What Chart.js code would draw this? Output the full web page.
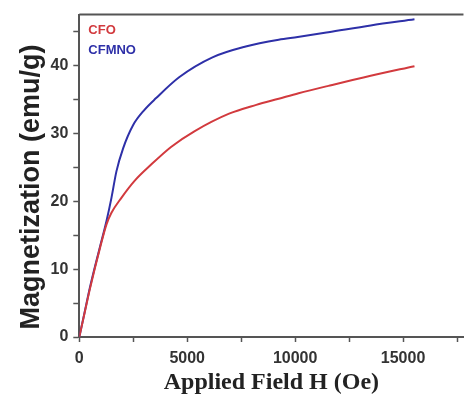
<!DOCTYPE html>
<html>
<head>
<meta charset="utf-8">
<script src="https://cdn.jsdelivr.net/npm/chart.js@4"></script>
<style>
  html, body { margin: 0; padding: 0; background: #fff; overflow: hidden; }
  #wrap { width: 464px; height: 410px; position: relative; }
</style>
</head>
<body>
<div id="wrap"><canvas id="chartCanvas" width="464" height="410"></canvas></div>
<script>
// CFO (red)
const cfoH = [0, 250, 500, 950, 1260, 1490, 1950, 2560, 3330, 4250, 5330, 6940, 8200, 9240, 10160, 11540, 13500, 15530];
const cfoM = [0, 3.6, 7.2, 13.0, 16.6, 18.3, 20.5, 23.0, 25.4, 28.0, 30.3, 32.9, 34.2, 35.1, 35.9, 37.0, 38.5, 39.9];
// CFMNO (blue)
const cfmnoH = [0, 250, 500, 950, 1260, 1490, 1720, 2030, 2490, 3000, 3560, 4640, 6170, 7710, 9240, 10120, 11540, 13500, 15530];
const cfmnoM = [0, 3.7, 7.4, 13.2, 17.1, 20.5, 24.4, 27.8, 31.2, 33.4, 35.2, 38.3, 41.2, 42.8, 43.8, 44.2, 44.9, 45.9, 46.8];

// tick positions (minor + major) and the labelled ones
const xTicks = [0, 2500, 5000, 7500, 10000, 12500, 15000, 17500];
const xMajor = [0, 5000, 10000, 15000];
const yTicks = [0, 5, 10, 15, 20, 25, 30, 35, 40, 45];
const yMajor = [0, 10, 20, 30, 40];

function toPoints(xs, ys) {
  return xs.map((x, i) => ({ x: x, y: ys[i] }));
}

const axisColor = "#555";
const tickFont = { family: "Liberation Sans", size: 16, weight: "bold" };

const legendText = {
  id: "legendText",
  afterDatasetsDraw(chart) {
    const ctx = chart.ctx;
    const a = chart.chartArea;
    ctx.save();
    ctx.font = "bold 13px 'Liberation Sans'";
    ctx.textBaseline = "middle";
    chart.data.datasets.forEach((ds, i) => {
      ctx.fillStyle = ds.borderColor;
      ctx.fillText(ds.label, a.left + 9, a.top + 16 + i * 20);
    });
    // top frame line
    ctx.strokeStyle = axisColor;
    ctx.lineWidth = 2;
    ctx.beginPath();
    ctx.moveTo(a.left, a.top);
    ctx.lineTo(a.right, a.top);
    ctx.stroke();
    ctx.restore();
  },
};

const ctxChart = document.getElementById("chartCanvas").getContext("2d");
const chart = new Chart(ctxChart, {
  type: "line",
  data: {
    datasets: [
      {
        label: "CFO",
        data: toPoints(cfoH, cfoM),
        borderColor: "#d23a3e",
        borderWidth: 2,
        pointRadius: 0,
        cubicInterpolationMode: "monotone",
        fill: false,
      },
      {
        label: "CFMNO",
        data: toPoints(cfmnoH, cfmnoM),
        borderColor: "#2e30a8",
        borderWidth: 2,
        pointRadius: 0,
        cubicInterpolationMode: "monotone",
        fill: false,
      },
    ],
  },
  options: {
    responsive: false,
    animation: false,
    layout: { padding: { top: 11, right: 0, left: 0, bottom: 0 } },
    plugins: { legend: { display: false }, tooltip: { enabled: false } },
    scales: {
      x: {
        type: "linear",
        min: 0,
        max: 17800,
        afterBuildTicks: (s) => { s.ticks = xTicks.map((v) => ({ value: v })); },
        afterFit: (s) => { s.height = 73; },
        grid: { drawOnChartArea: false, drawTicks: true, tickLength: 5, tickColor: axisColor, tickWidth: 1.5 },
        border: { color: axisColor, width: 2 },
        ticks: {
          maxRotation: 0,
          autoSkip: false,
          padding: 7,
          color: "#333",
          font: tickFont,
          callback: (v) => (xMajor.includes(v) ? String(v) : ""),
        },
        title: {
          display: true,
          text: "Applied Field H (Oe)",
          color: "#222",
          font: { family: "Liberation Serif", size: 24, weight: "bold" },
          padding: { top: 0, bottom: 13 },
        },
      },
      y: {
        min: 0,
        max: 47.5,
        afterBuildTicks: (s) => { s.ticks = yTicks.map((v) => ({ value: v })); },
        afterFit: (s) => { s.width = 79.3; },
        grid: { drawOnChartArea: false, drawTicks: true, tickLength: 6, tickColor: axisColor, tickWidth: 1.5 },
        border: { color: axisColor, width: 2 },
        ticks: {
          autoSkip: false,
          padding: 5,
          color: "#333",
          font: tickFont,
          callback: (v) => (yMajor.includes(v) ? String(v) : ""),
        },
        title: {
          display: true,
          text: "Magnetization (emu/g)   ",
          color: "#222",
          font: { family: "Liberation Sans", size: 27, weight: "bold" },
          padding: { top: 15, bottom: 0 },
        },
      },
    },
  },
  plugins: [legendText],
});
</script>
</body>
</html>
